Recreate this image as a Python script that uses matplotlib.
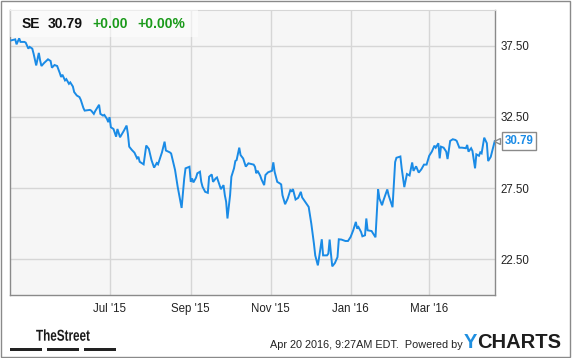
import matplotlib
matplotlib.use("Agg")
import matplotlib.pyplot as plt
import matplotlib.dates as mdates
from matplotlib.patches import Rectangle, PathPatch
from matplotlib.textpath import TextPath
from matplotlib.font_manager import FontProperties
from matplotlib.transforms import Affine2D
import pandas as pd

plt.rcParams['font.family'] = ['Liberation Sans', 'DejaVu Sans']

ticker = "SE"
last_price = 30.79
change = "+0.00"
change_pct = "+0.00%"
timestamp = "Apr 20 2016, 9:27AM EDT.  Powered by"

dates = [
    "2015-04-17", "2015-04-20", "2015-04-21", "2015-04-23", "2015-04-24", "2015-04-27", "2015-04-28", "2015-04-30",
    "2015-05-01", "2015-05-03", "2015-05-04", "2015-05-06", "2015-05-08", "2015-05-09", "2015-05-10", "2015-05-12",
    "2015-05-15", "2015-05-17", "2015-05-18", "2015-05-20", "2015-05-22", "2015-05-24", "2015-05-25", "2015-05-26",
    "2015-05-28", "2015-05-29", "2015-05-31", "2015-06-01", "2015-06-03", "2015-06-04", "2015-06-06", "2015-06-08",
    "2015-06-09", "2015-06-11", "2015-06-12", "2015-06-16", "2015-06-17", "2015-06-19", "2015-06-20", "2015-06-23",
    "2015-06-24", "2015-06-26", "2015-06-27", "2015-06-29", "2015-06-30", "2015-07-01", "2015-07-02", "2015-07-04",
    "2015-07-06", "2015-07-07", "2015-07-09", "2015-07-10", "2015-07-12", "2015-07-14", "2015-07-15", "2015-07-16",
    "2015-07-18", "2015-07-20", "2015-07-22", "2015-07-23", "2015-07-24", "2015-07-27", "2015-07-29", "2015-07-31",
    "2015-08-02", "2015-08-04", "2015-08-06", "2015-08-07", "2015-08-09", "2015-08-10", "2015-08-12", "2015-08-13",
    "2015-08-16", "2015-08-17", "2015-08-20", "2015-08-22", "2015-08-25", "2015-08-27", "2015-08-28", "2015-08-31",
    "2015-09-01", "2015-09-02", "2015-09-03", "2015-09-05", "2015-09-06", "2015-09-08", "2015-09-09", "2015-09-10",
    "2015-09-12", "2015-09-14", "2015-09-15", "2015-09-17", "2015-09-18", "2015-09-20", "2015-09-21", "2015-09-23",
    "2015-09-24", "2015-09-26", "2015-09-27", "2015-09-28", "2015-09-29", "2015-10-01", "2015-10-02", "2015-10-04",
    "2015-10-05", "2015-10-06", "2015-10-08", "2015-10-09", "2015-10-11", "2015-10-13", "2015-10-15", "2015-10-19",
    "2015-10-20", "2015-10-21", "2015-10-22", "2015-10-24", "2015-10-25", "2015-10-27", "2015-10-28", "2015-10-30",
    "2015-11-02", "2015-11-03", "2015-11-04", "2015-11-06", "2015-11-08", "2015-11-09", "2015-11-10", "2015-11-12",
    "2015-11-14", "2015-11-16", "2015-11-17", "2015-11-18", "2015-11-20", "2015-11-22", "2015-11-24", "2015-11-25",
    "2015-11-27", "2015-11-29", "2015-11-30", "2015-12-02", "2015-12-04", "2015-12-05", "2015-12-07", "2015-12-08",
    "2015-12-10", "2015-12-11", "2015-12-14", "2015-12-15", "2015-12-16", "2015-12-17", "2015-12-18", "2015-12-20",
    "2015-12-22", "2015-12-23", "2015-12-25", "2015-12-28", "2015-12-30", "2016-01-01", "2016-01-03", "2016-01-05",
    "2016-01-06", "2016-01-07", "2016-01-09", "2016-01-10", "2016-01-12", "2016-01-13", "2016-01-14", "2016-01-17",
    "2016-01-20", "2016-01-22", "2016-01-23", "2016-01-25", "2016-01-26", "2016-01-29", "2016-01-30", "2016-02-02",
    "2016-02-04", "2016-02-05", "2016-02-08", "2016-02-09", "2016-02-11", "2016-02-13", "2016-02-15", "2016-02-17",
    "2016-02-18", "2016-02-20", "2016-02-22", "2016-02-24", "2016-02-26", "2016-02-28", "2016-03-01", "2016-03-03",
    "2016-03-05", "2016-03-06", "2016-03-08", "2016-03-09", "2016-03-10", "2016-03-12", "2016-03-14", "2016-03-15",
    "2016-03-17", "2016-03-19", "2016-03-21", "2016-03-22", "2016-03-24", "2016-03-26", "2016-03-29", "2016-03-30",
    "2016-03-31", "2016-04-02", "2016-04-03", "2016-04-05", "2016-04-06", "2016-04-08", "2016-04-09", "2016-04-10",
    "2016-04-12", "2016-04-14", "2016-04-15", "2016-04-17", "2016-04-19", "2016-04-20",
]

prices = [
    37.87, 37.94, 37.59, 38.01, 37.76, 37.76, 37.71, 37.29,
    37.41, 37.29, 36.94, 36.11, 36.99, 36.46, 36.07, 36.28,
    36.54, 36.42, 35.95, 36.14, 36.07, 35.58, 35.30, 35.46,
    35.06, 35.15, 34.82, 34.92, 34.63, 34.24, 34.00, 33.89,
    33.70, 33.13, 32.94, 32.99, 32.94, 32.71, 32.90, 33.35,
    32.71, 32.59, 32.64, 32.36, 32.13, 32.48, 31.77, 31.65,
    31.11, 31.65, 31.07, 31.23, 31.54, 31.89, 31.30, 30.41,
    30.18, 29.99, 29.59, 29.70, 29.35, 29.17, 30.49, 30.25,
    29.47, 28.94, 29.26, 29.17, 29.72, 30.01, 30.76, 30.14,
    30.01, 29.93, 28.77, 27.59, 26.11, 28.18, 28.89, 29.00,
    27.94, 28.18, 27.90, 28.23, 28.54, 28.65, 27.94, 27.59,
    27.24, 27.17, 28.30, 28.46, 27.94, 28.18, 28.25, 27.71,
    27.43, 27.71, 27.00, 26.54, 25.37, 27.00, 28.30, 28.89,
    29.40, 29.47, 30.34, 29.82, 29.58, 29.01, 29.24, 29.15,
    29.00, 28.54, 28.72, 28.37, 28.11, 27.71, 28.42, 28.61,
    28.72, 29.31, 28.65, 27.94, 27.83, 27.76, 27.00, 26.37,
    26.77, 27.36, 27.29, 27.43, 26.70, 26.82, 27.24, 26.85,
    26.58, 26.30, 26.18, 25.01, 23.61, 22.78, 22.08, 22.66,
    23.91, 22.78, 22.78, 22.90, 23.89, 22.90, 22.01, 22.24,
    22.66, 23.91, 23.89, 23.79, 23.79, 24.07, 24.54, 25.13,
    24.66, 24.77, 24.42, 24.12, 24.19, 25.37, 24.54, 24.49,
    24.05, 27.41, 26.77, 26.30, 26.62, 27.41, 27.01, 26.16,
    29.33, 29.63, 29.72, 28.89, 27.57, 28.49, 28.39, 29.30,
    28.71, 29.03, 28.59, 28.82, 29.15, 29.15, 29.77, 30.06,
    30.48, 30.34, 30.65, 29.59, 30.41, 30.34, 30.06, 29.54,
    30.81, 30.93, 30.88, 30.81, 30.34, 30.34, 30.30, 30.53,
    30.06, 30.30, 30.11, 28.89, 29.87, 29.77, 30.01, 29.94,
    31.04, 30.65, 29.40, 29.70, 30.41, 30.79,
]

x_start = "2015-04-16"
x_end = "2016-04-20"
y_min, y_max = 20.0, 40.0
y_ticks = [22.5, 27.5, 32.5, 37.5]
x_ticks = ["2015-07-01", "2015-09-01", "2015-11-01", "2016-01-01", "2016-03-01"]

W, H = 575, 358
fig = plt.figure(figsize=(W / 100, H / 100), dpi=100)
fig.patch.set_facecolor("white")

def fx(px):
    return px / W

def fy(py):
    return 1 - py / H

ax = fig.add_axes([fx(10), fy(295), fx(494.7) - fx(10), fy(10) - fy(295)])
ax.set_facecolor("#f6f6f6")

d = pd.to_datetime(dates)
ax.plot(d, prices, color="#1a8be6", lw=1.4, solid_joinstyle="miter", zorder=3)

ax.set_xlim(pd.Timestamp(x_start), pd.Timestamp(x_end))
ax.set_ylim(y_min, y_max)
ax.set_xticks(pd.to_datetime(x_ticks))
ax.xaxis.set_major_formatter(mdates.DateFormatter("%b '%y"))
ax.set_yticks(y_ticks)
ax.set_yticklabels([f"{v:.2f}" for v in y_ticks])
ax.yaxis.tick_right()
ax.tick_params(axis="both", length=0, labelsize=8.3, labelcolor="#222222")
ax.tick_params(axis="x", pad=6)
ax.tick_params(axis="y", pad=4)
ax.grid(True, color="#d6d6d6", lw=1)
ax.set_axisbelow(True)
for side in ["left", "bottom", "right"]:
    ax.spines[side].set_color("#8a8a8a")
    ax.spines[side].set_linewidth(1)
ax.spines["top"].set_color("#d6d6d6")

# header box
fig.patches.append(Rectangle((fx(10), fy(37)), fx(198) - fx(10), fy(10) - fy(37),
                             transform=fig.transFigure, facecolor="white", alpha=0.55,
                             edgecolor="none", zorder=5))
hy = fy(23.5)
fig.text(fx(21.5), hy, ticker, fontsize=10, fontweight="bold", color="#111111", va="center", zorder=6)
fig.text(fx(48), hy, f"{last_price:.2f}", fontsize=10, fontweight="bold", color="#111111", va="center", zorder=6)
fig.text(fx(92.5), hy, change, fontsize=10, fontweight="bold", color="#1a9a1a", va="center", zorder=6)
fig.text(fx(137.5), hy, change_pct, fontsize=10, fontweight="bold", color="#1a9a1a", va="center", zorder=6)

# last price tag
ax.annotate(f"{prices[-1]:.2f}", xy=(1.0, prices[-1]), xycoords=("axes fraction", "data"),
            xytext=(7, 0), textcoords="offset points", fontsize=8.3, fontweight="bold",
            color="#1a8be6", va="center", ha="left", annotation_clip=False,
            bbox=dict(boxstyle="square,pad=0.25", fc="white", ec="#8a8a8a", lw=1), zorder=7)
ax.plot([1.004], [prices[-1]], marker="<", ms=5, color="#8a8a8a", mfc="white", mew=1,
        transform=ax.get_yaxis_transform(), clip_on=False, zorder=8)

# footer: condensed "TheStreet" logo text
logo = TextPath((0, 0), "TheStreet", size=15.8,
                prop=FontProperties(family="Liberation Sans", weight="bold"))
logo_tf = Affine2D().scale(0.74, 1.0).translate(36, H - 340.7)
fig.patches.append(PathPatch(logo, transform=logo_tf, facecolor="#1a1a1a", edgecolor="none"))
for x0, x1 in [(10, 42), (47, 79), (84, 116)]:
    fig.patches.append(Rectangle((fx(x0), fy(350.5)), fx(x1) - fx(x0), fy(347.5) - fy(350.5),
                                 transform=fig.transFigure, facecolor="#222222", edgecolor="none"))
fig.text(fx(269.5), fy(344.5), timestamp, fontsize=7.8, color="#222222", va="center", ha="left")
fig.text(fx(464), fy(342), "Y", fontsize=14.5, fontweight="bold", color="#1f8fe0", va="center", ha="left")
fig.text(fx(477), fy(342), "CHARTS", fontsize=14.5, fontweight="bold", color="#1d1d1d", va="center", ha="left")

# outer frame
fig.patches.append(Rectangle((fx(0.5), fy(356.5)), fx(569.5) - fx(0.5), fy(0.5) - fy(356.5),
                             transform=fig.transFigure, facecolor="none", edgecolor="#8a8a8a", lw=1))

fig.savefig("out.png", dpi=100)
